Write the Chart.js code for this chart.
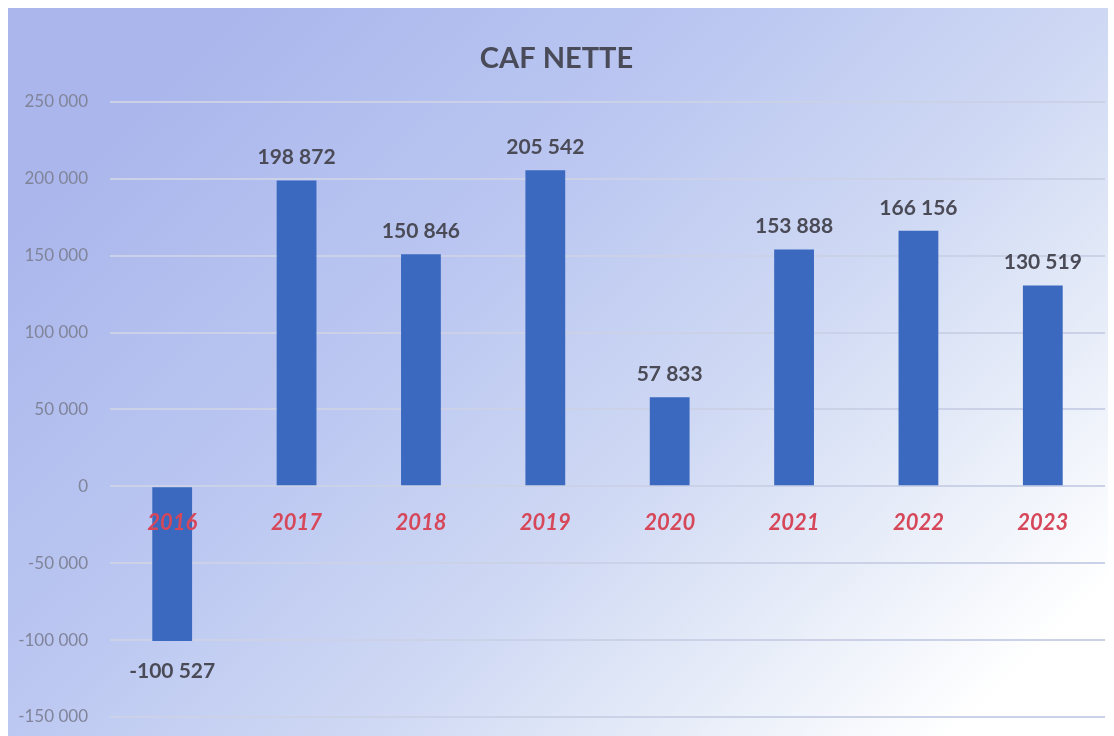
<!DOCTYPE html>
<html>
<head>
<meta charset="utf-8">
<script src="https://cdn.jsdelivr.net/npm/chart.js@4.4.1/dist/chart.umd.min.js"></script>
<style>
html,body{margin:0;padding:0;background:#fff;}
#wrap{width:1114px;height:736px;position:relative;}
</style>
</head>
<body>
<div id="wrap"><canvas id="c" width="1114" height="736"></canvas></div>
<script>
const title = "CAF NETTE";
const years = ["2016","2017","2018","2019","2020","2021","2022","2023"];
const cafNette = [-100527, 198872, 150846, 205542, 57833, 153888, 166156, 130519];
const yMin = -150000;
const yMax = 250000;
const yStep = 50000;

function fmt(v){
  const s = Math.abs(Math.round(v)).toString().replace(/\B(?=(\d{3})+(?!\d))/g, " ");
  return (v < 0 ? "-" : "") + s;
}

const bgPlugin = {
  id: "bg",
  beforeDraw(chart){
    const ctx = chart.ctx;
    ctx.save();
    ctx.fillStyle = "#ffffff";
    ctx.fillRect(0,0,chart.width,chart.height);
    const g = ctx.createLinearGradient(250, 8, 950, 736);
    g.addColorStop(0, "#abb7ec");
    g.addColorStop(0.35, "#bcc8f1");
    g.addColorStop(0.6, "#cfd9f4");
    g.addColorStop(0.8, "#e6ecf8");
    g.addColorStop(1, "#ffffff");
    ctx.fillStyle = g;
    ctx.fillRect(8, 8, 1100, 728);
    ctx.restore();
  }
};

const labelPlugin = {
  id: "vlabels",
  afterDatasetsDraw(chart){
    const ctx = chart.ctx;
    const meta = chart.getDatasetMeta(0);
    ctx.save();
    ctx.font = "bold 21px Lato, 'Liberation Sans', sans-serif";
    ctx.fillStyle = "#4a4b56";
    ctx.textAlign = "center";
    ctx.textBaseline = "middle";
    meta.data.forEach((bar, i) => {
      const v = chart.data.datasets[0].data[i];
      const y = v >= 0 ? bar.y - 23 : bar.y + 30;
      ctx.fillText(fmt(v), bar.x, y);
    });
    ctx.restore();
  }
};

new Chart(document.getElementById("c"), {
  type: "bar",
  data: {
    labels: years,
    datasets: [{
      data: cafNette,
      backgroundColor: "#3b69bf",
      borderWidth: 0,
      barPercentage: 0.64,
      categoryPercentage: 0.5
    }]
  },
  options: {
    responsive: false,
    animation: false,
    events: [],
    layout: { padding: { left: 8, right: 9, top: 8, bottom: 19 } },
    plugins: {
      legend: { display: false },
      tooltip: { enabled: false },
      title: {
        display: true,
        text: title,
        color: "#4a4b58",
        font: { family: "Lato, 'Liberation Sans', sans-serif", size: 29, weight: "bold" },
        padding: { top: 33, bottom: 26 }
      }
    },
    scales: {
      x: {
        position: { y: 0 },
        grid: { display: false },
        border: { display: false },
        ticks: {
          z: 1,
          color: "#d7475a",
          font: { family: "Lato, 'Liberation Sans', sans-serif", size: 22, weight: "bold", style: "italic" },
          padding: 15,
          maxRotation: 0
        },
        afterFit(s){ s.height = 0; s.paddingTop = 0; s.paddingBottom = 0; }
      },
      y: {
        min: yMin,
        max: yMax,
        ticks: {
          stepSize: yStep,
          color: "#80849a",
          padding: 22,
          font: { family: "Lato, 'Liberation Sans', sans-serif", size: 17 },
          callback: (v) => fmt(v)
        },
        grid: { color: "#cbd2e8", lineWidth: 2, drawTicks: false },
        border: { display: false },
        afterFit(s){ s.width = 102; s.paddingBottom = 0; }
      }
    }
  },
  plugins: [bgPlugin, labelPlugin]
});
</script>
</body>
</html>
